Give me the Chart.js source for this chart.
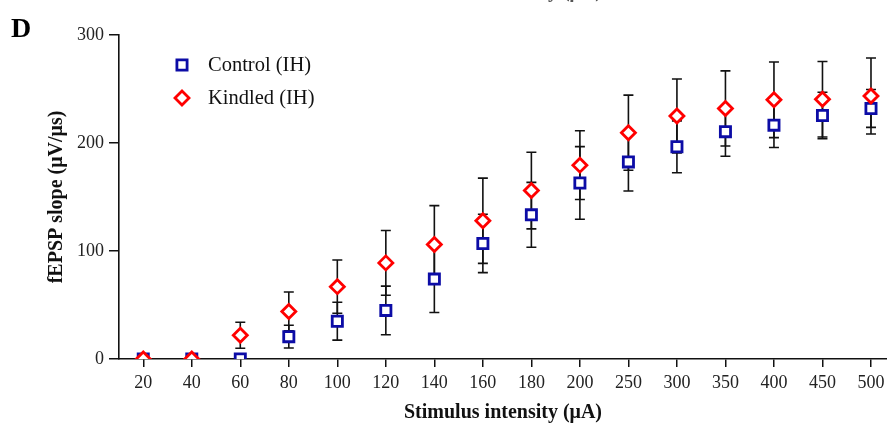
<!DOCTYPE html>
<html lang="en">
<head>
    <meta charset="UTF-8">
    <title>fEPSP slope vs stimulus intensity</title>
    <style>
        body {
            margin: 0;
            padding: 0;
            background-color: #ffffff;
            overflow: hidden;
        }

        #chartContainer {
            display: block;
        }
    </style>
</head>
<body>
    <canvas id="chartContainer" width="887" height="427"></canvas>

    <script src="https://cdn.jsdelivr.net/npm/chart.js"></script>
    <script>
        // Stimulus intensities (uA) - x categories
        const categories = ['20', '40', '60', '80', '100', '120', '140', '160', '180', '200', '250', '300', '350', '400', '450', '500'];

        // mean fEPSP slope (uV/us)
        const controlMean = [0, 0, 0, 20.7, 35, 45, 74, 107, 133.5, 163, 182.5, 196.5, 210.5, 216.5, 225.5, 232];
        const kindledMean = [0, 0, 22, 44, 67, 89, 106, 128, 156, 179.5, 209.5, 225, 232, 240, 240.5, 243.5];

        // error bars (SEM)
        const controlErr = [0, 0, 0, 10.5, 17.5, 22.5, 31, 27, 30, 33.6, 27, 24, 22.8, 20.7, 21.5, 17.5];
        const kindledErr = [0, 0, 12, 18, 24.7, 30, 36, 39.5, 35.5, 31.8, 34.8, 34.3, 34.8, 35, 35, 35.2];

        const yTicks = [0, 100, 200, 300];

        const serif = "'Liberation Serif', 'Times New Roman', serif";

        // error bars drawn behind the markers
        const errorBars = {
            id: 'errorBars',
            beforeDatasetsDraw(chart) {
                const ctx = chart.ctx;
                const yScale = chart.scales.y;
                ctx.save();
                ctx.strokeStyle = '#111';
                ctx.lineWidth = 1.6;
                chart.data.datasets.forEach((ds, di) => {
                    const meta = chart.getDatasetMeta(di);
                    meta.data.forEach((pt, i) => {
                        const e = ds.errors[i];
                        if (!e) return;
                        const v = ds.data[i].y;
                        const top = yScale.getPixelForValue(v + e);
                        const bot = yScale.getPixelForValue(v - e);
                        ctx.beginPath();
                        ctx.moveTo(pt.x, top);
                        ctx.lineTo(pt.x, bot);
                        ctx.moveTo(pt.x - 5, top);
                        ctx.lineTo(pt.x + 5, top);
                        ctx.moveTo(pt.x - 5, bot);
                        ctx.lineTo(pt.x + 5, bot);
                        ctx.stroke();
                    });
                });
                ctx.restore();
            }
        };

        // panel letter, legend and the clipped title from the panel above
        const extras = {
            id: 'extras',
            afterDraw(chart) {
                const ctx = chart.ctx;
                ctx.save();
                ctx.fillStyle = '#000';
                ctx.textBaseline = 'alphabetic';
                ctx.font = 'bold 28px ' + serif;
                ctx.fillText('D', 11, 37);

                ctx.fillStyle = '#555';
                ctx.font = 'bold 20px ' + serif;
                ctx.textAlign = 'center';
                ctx.fillText('Stimulus intensity (\u03bcA)', 503, -3);

                ctx.textAlign = 'left';
                ctx.textBaseline = 'middle';
                ctx.font = '20.5px ' + serif;
                const rows = [{ y: 65 }, { y: 98 }];
                chart.data.datasets.forEach((ds, di) => {
                    const y = rows[di].y;
                    ctx.save();
                    ctx.strokeStyle = ds.borderColor;
                    ctx.fillStyle = '#fff';
                    ctx.lineWidth = ds.borderWidth;
                    Chart.helpers.drawPoint(ctx, {
                        pointStyle: ds.pointStyle,
                        radius: ds.pointRadius,
                        borderWidth: ds.borderWidth,
                        rotation: 0
                    }, 182, y);
                    ctx.restore();
                    ctx.fillStyle = '#111';
                    ctx.fillText(ds.label, 208, y + 1);
                });
                ctx.restore();
            }
        };

        const ctx = document.getElementById('chartContainer').getContext('2d');
        const chart = new Chart(ctx, {
            type: 'scatter',
            data: {
                datasets: [
                    {
                        label: 'Control (IH)',
                        data: controlMean.map((v, i) => ({ x: i, y: v })),
                        errors: controlErr,
                        pointStyle: 'rect',
                        pointRadius: 7.2,
                        borderWidth: 2.8,
                        borderColor: '#0c0ca6',
                        backgroundColor: '#ffffff',
                        order: 2
                    },
                    {
                        label: 'Kindled (IH)',
                        data: kindledMean.map((v, i) => ({ x: i, y: v })),
                        errors: kindledErr,
                        pointStyle: 'rectRot',
                        pointRadius: 7,
                        borderWidth: 2.8,
                        borderColor: '#ff0000',
                        backgroundColor: '#ffffff',
                        order: 1
                    }
                ]
            },
            options: {
                responsive: false,
                animation: false,
                layout: {
                    autoPadding: false,
                    padding: { top: 35, left: 0, right: 0, bottom: 0 }
                },
                plugins: {
                    legend: { display: false },
                    tooltip: { enabled: false }
                },
                scales: {
                    x: {
                        type: 'linear',
                        min: -0.5,
                        max: 15.33,
                        afterBuildTicks: s => {
                            s.ticks = categories.map((c, i) => ({ value: i }));
                        },
                        afterFit: s => {
                            s.height = 68;
                            s.paddingLeft = 0;
                            s.paddingRight = 0;
                        },
                        ticks: {
                            autoSkip: false,
                            maxRotation: 0,
                            padding: 5,
                            color: '#222',
                            font: { family: serif, size: 18 },
                            callback: v => categories[v]
                        },
                        grid: {
                            drawOnChartArea: false,
                            drawTicks: true,
                            tickLength: 8,
                            color: '#111',
                            lineWidth: 1.5
                        },
                        border: { display: true, color: '#111', width: 1.6 },
                        title: {
                            display: true,
                            text: 'Stimulus intensity (\u03bcA)',
                            color: '#111',
                            font: { family: serif, size: 20, weight: 'bold' },
                            padding: { top: 0, bottom: 2 }
                        }
                    },
                    y: {
                        min: 0,
                        max: 300,
                        afterBuildTicks: s => {
                            s.ticks = yTicks.map(v => ({ value: v }));
                        },
                        afterFit: s => {
                            s.width = 119;
                            s.paddingTop = 0;
                            s.paddingBottom = 0;
                        },
                        ticks: {
                            padding: 5,
                            color: '#222',
                            font: { family: serif, size: 18 }
                        },
                        grid: {
                            drawOnChartArea: false,
                            drawTicks: true,
                            tickLength: 10,
                            color: '#111',
                            lineWidth: 1.5
                        },
                        border: { display: true, color: '#111', width: 1.6 },
                        title: {
                            display: true,
                            text: 'fEPSP slope (\u03bcV/\u03bcs)',
                            color: '#111',
                            font: { family: serif, size: 20, weight: 'bold' },
                            padding: { top: 45, bottom: 0 }
                        }
                    }
                }
            },
            plugins: [errorBars, extras]
        });
    </script>
</body>
</html>
